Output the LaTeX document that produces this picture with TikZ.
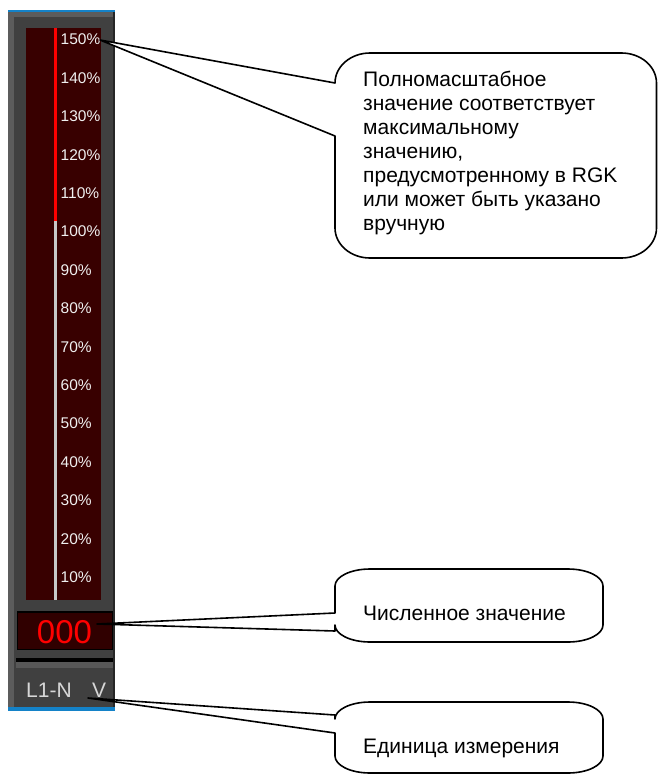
\documentclass[tikz,border=0pt]{standalone}
\usepackage{fontspec}
\setmainfont{Liberation Sans}

\definecolor{panelgray}{RGB}{64,64,64}
\definecolor{panellight}{RGB}{92,92,92}
\definecolor{panelband}{RGB}{88,88,88}
\definecolor{scalebg}{RGB}{56,0,0}
\definecolor{displaybg}{RGB}{48,0,0}
\definecolor{frameblue}{RGB}{20,130,200}
\definecolor{barred}{RGB}{255,0,0}
\definecolor{bargray}{RGB}{200,200,200}
\definecolor{labelwhite}{RGB}{240,240,240}
\definecolor{unitgray}{RGB}{215,215,215}

\tikzset{
  pct/.style={anchor=west, inner sep=0pt, text=labelwhite,
              font=\fontsize{15.5}{15.5}\selectfont},
  calloutline/.style={draw=black, line width=1.6pt, fill=white, line join=round},
  callouttext/.style={anchor=base west, inner sep=0pt, align=left,
                      font=\fontsize{21}{24}\selectfont},
}

% speech callout: #1 left, #2 top, #3 right, #4 bottom, #5 corner x-radius,
% #6 corner y-radius, #7/#8 where the tail leaves the left side, #9 tail tip
\newcommand\speechcallout[9]{%
  \filldraw[calloutline]
    (#1,#7) -- (#9) -- (#1,#8) -- (#1,#4-#6)
    .. controls (#1,#4-0.448*#6) and (#1+0.448*#5,#4) .. (#1+#5,#4)
    -- (#3-#5,#4)
    .. controls (#3-0.448*#5,#4) and (#3,#4-0.448*#6) .. (#3,#4-#6)
    -- (#3,#2+#6)
    .. controls (#3,#2+0.448*#6) and (#3-0.448*#5,#2) .. (#3-#5,#2)
    -- (#1+#5,#2)
    .. controls (#1+0.448*#5,#2) and (#1,#2+0.448*#6) .. (#1,#2+#6)
    -- cycle;}

\begin{document}
\begin{tikzpicture}[x=1pt, y=-1pt]
\useasboundingbox (0,0) rectangle (658,774);
\fill[white] (0,0) rectangle (658,774);

% ---- meter panel ----
\fill[panellight] (8,12) rectangle (113,707);
\fill[panelgray] (14,17) rectangle (113,707);
\fill[black!85] (113,12) rectangle (115,707);
\fill[frameblue] (8,9.5) rectangle (115,12);
\fill[frameblue] (8,707) rectangle (115,710.5);

% scale background and bar
\fill[scalebg] (26,28) rectangle (101,600);
\fill[bargray] (54,221) rectangle (57,600);
\fill[barred] (54,28) rectangle (57,221);

% scale labels
\foreach \v [count=\k from 0] in {150,140,130,120,110,100,90,80,70,60,50,40,30,20,10}
  \node[pct] (p\v) at (60.5,39.5+38.4*\k) {\v\%};

% numeric display
\filldraw[fill=displaybg, draw=black, line width=1.5pt] (17.5,612) rectangle (112.5,649.5);
\node[text=barred, inner sep=0pt, font=\fontsize{33}{33}\selectfont] (num) at (64.5,632.5) {000};

% separator under the display
\fill[black] (16,658) rectangle (113,661.5);
\fill[panelband] (16,661.5) rectangle (113,668);

% unit row
\node[callouttext, text=unitgray, font=\fontsize{21}{21}\selectfont] (chan) at (26,697) {L1-N};
\node[callouttext, text=unitgray, font=\fontsize{21}{21}\selectfont] (unit) at (92,697) {V};

% ---- callouts ----
\coordinate (tipscale) at (100,40);
\coordinate (tipnum) at (97,624);
\coordinate (tipunit) at (88,698);

\speechcallout{335}{53}{656.5}{258}{35}{30}{83}{136}{tipscale}
\speechcallout{335}{569}{603}{642}{35}{17}{613}{631}{tipnum}
\speechcallout{335}{702}{603}{773}{35}{17}{715}{733}{tipunit}

\node[callouttext, anchor=north west] (fullscale) at (363,71)
  {Полномасштабное\\значение соответствует\\максимальному\\значению,\\предусмотренному в RGK\\или может быть указано\\вручную};
\node[callouttext] (numtext) at (363,620) {Численное значение};
\node[callouttext] (unittext) at (363,753) {Единица измерения};
\end{tikzpicture}
\end{document}
